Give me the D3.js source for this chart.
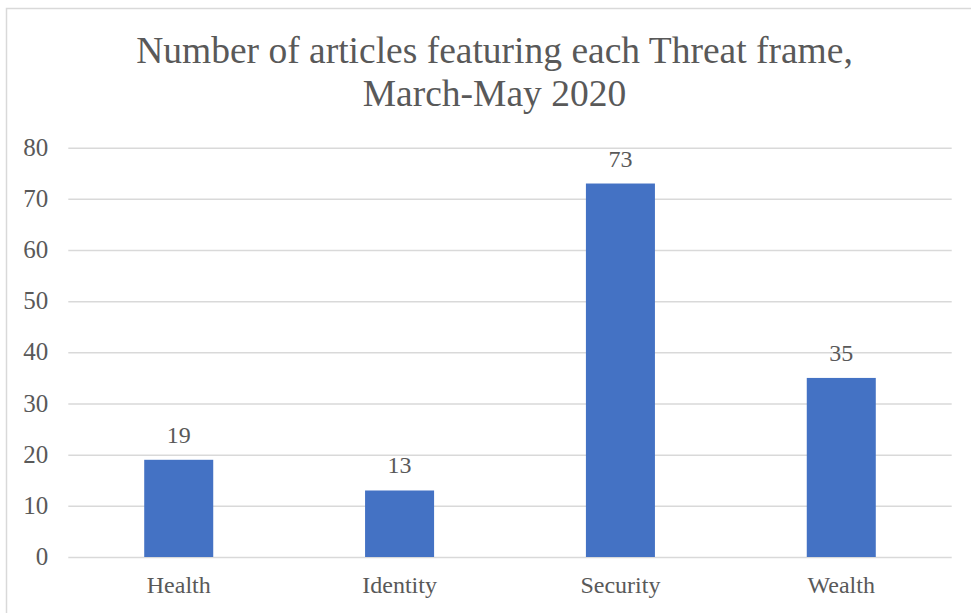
<!DOCTYPE html>
<html>
<head>
<meta charset="utf-8">
<script src="https://cdn.jsdelivr.net/npm/d3@7"></script>
<style>
  html, body { margin: 0; padding: 0; background: #fff; }
  svg { display: block; }
</style>
</head>
<body>
<svg id="chart" width="971" height="613"></svg>
<script>
// Articles per Threat frame, March–May 2020
const categories = ["Health", "Identity", "Security", "Wealth"];
const articleCounts = [19, 13, 73, 35];
const yTicks = [0, 10, 20, 30, 40, 50, 60, 70, 80];
const titleLines = ["Number of articles featuring each Threat frame,", "March-May 2020"];

const FONT = "'Liberation Serif', 'Times New Roman', serif";
const INK = "#595959";
const W = 971, H = 613;
const margin = { left: 68.3, right: W - 951.7, top: 147.7, bottom: H - 557 };

const svg = d3.select("#chart");

// outer chart border (runs off the right and bottom edges)
svg.append("rect")
  .attr("x", 6.5).attr("y", 8.5)
  .attr("width", W + 10).attr("height", H + 10)
  .attr("fill", "none").attr("stroke", "#d9d9d9").attr("stroke-width", 1.5);

const x = d3.scaleBand()
  .domain(categories)
  .range([margin.left, W - margin.right])
  .paddingInner(0.6875)
  .paddingOuter(0.34375);

const y = d3.scaleLinear()
  .domain([0, 80])
  .range([H - margin.bottom, margin.top]);

// title
const title = svg.append("text")
  .attr("text-anchor", "middle")
  .attr("font-family", FONT)
  .attr("fill", INK)
  .attr("font-size", 37.5);
title.selectAll("tspan")
  .data(titleLines)
  .join("tspan")
  .attr("x", W / 2 + 9)
  .attr("y", (d, i) => 63 + i * 43)
  .text(d => d);

// gridlines + y tick labels
const yAxis = d3.axisLeft(y)
  .tickValues(yTicks)
  .tickSize(-(W - margin.left - margin.right))
  .tickPadding(20);
const gy = svg.append("g")
  .attr("transform", `translate(${margin.left},0)`)
  .call(yAxis)
  .attr("font-family", FONT)
  .attr("font-size", 25);
gy.select(".domain").remove();
gy.selectAll(".tick line").attr("stroke", "#d9d9d9").attr("stroke-width", 1.5);
gy.selectAll(".tick text").attr("fill", INK).attr("dy", "0.3em");

// bars
svg.append("g").selectAll("rect")
  .data(categories)
  .join("rect")
  .attr("x", d => x(d))
  .attr("width", x.bandwidth())
  .attr("y", (d, i) => y(articleCounts[i]))
  .attr("height", (d, i) => y(0) - y(articleCounts[i]))
  .attr("fill", "#4472c4");

// value labels
svg.append("g")
  .attr("font-family", FONT)
  .attr("font-size", 24)
  .attr("fill", INK)
  .selectAll("text")
  .data(categories)
  .join("text")
  .attr("text-anchor", "middle")
  .attr("x", d => x(d) + x.bandwidth() / 2)
  .attr("y", (d, i) => y(articleCounts[i]) - 17)
  .text((d, i) => articleCounts[i]);

// category labels
const xAxis = d3.axisBottom(x).tickSize(0).tickPadding(19);
const gx = svg.append("g")
  .attr("transform", `translate(0,${y(0)})`)
  .call(xAxis)
  .attr("font-family", FONT)
  .attr("font-size", 24);
gx.select(".domain").remove();
gx.selectAll(".tick text").attr("fill", INK);
</script>
</body>
</html>
